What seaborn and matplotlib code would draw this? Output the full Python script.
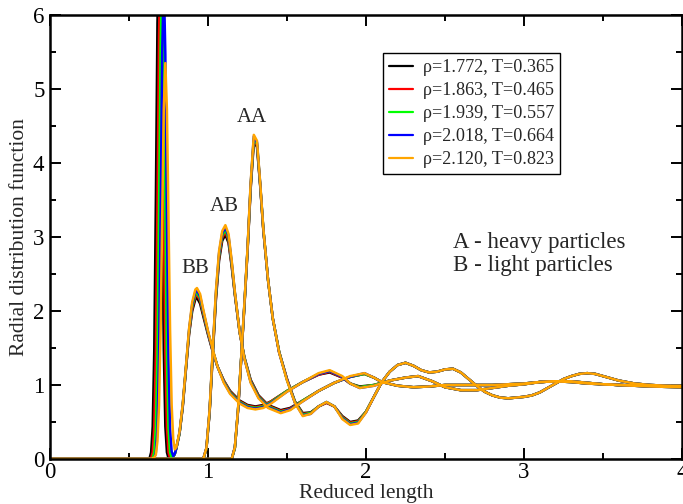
import matplotlib
matplotlib.use("Agg")
import matplotlib.pyplot as plt
import seaborn as sns
import pandas as pd

# ---------------- data ----------------
state_labels = ["ρ=1.772, T=0.365", "ρ=1.863, T=0.465", "ρ=1.939, T=0.557",
                "ρ=2.018, T=0.664", "ρ=2.120, T=0.823"]
state_colors = ["#000000", "#ff0000", "#00ff00", "#0000ff", "#ffa500"]

# B-B pair
r_bb = [0.0, 0.60, 0.62, 0.63, 0.64, 0.65, 0.66, 0.67, 0.68, 0.69, 0.70, 0.71, 0.72, 0.73,
        0.74, 0.75, 0.76, 0.77, 0.78, 0.79, 0.80,
        0.82, 0.84, 0.86, 0.88, 0.90, 0.92, 0.93, 0.95, 0.97, 1.00, 1.03, 1.06, 1.10, 1.14,
        1.20, 1.25, 1.30, 1.35, 1.40, 1.50, 1.60, 1.70, 1.77, 1.85, 1.90, 1.96, 2.05, 2.15,
        2.25, 2.33, 2.42, 2.50, 2.60, 2.70, 2.80, 2.90, 3.00, 3.10, 3.20, 3.30, 3.40, 3.60,
        3.80, 4.00]
g_bb_1 = [0, 0, 0, 0.01, 0.09, 0.44, 1.48, 3.5, 5.89, 7.0, 5.89, 3.5, 1.48, 0.44,
          0.09, 0.01, 0.0, 0.01, 0.03, 0.07, 0.15,
          0.35, 0.70, 1.20, 1.68, 2.00, 2.16, 2.18, 2.10, 1.93, 1.68, 1.45, 1.25, 1.06, 0.92,
          0.79, 0.73, 0.71, 0.73, 0.78, 0.92, 1.04, 1.14, 1.17, 1.10, 1.02, 0.98, 1.00, 1.06,
          1.10, 1.12, 1.05, 0.97, 0.93, 0.93, 0.96, 0.99, 1.01, 1.04, 1.05, 1.04, 1.02, 1.00,
          0.98, 0.97]
g_bb_2 = [0, 0, 0, 0, 0.01, 0.09, 0.43, 1.43, 3.4, 5.72, 6.8, 5.72, 3.4, 1.43,
          0.43, 0.09, 0.01, 0.01, 0.03, 0.07, 0.15,
          0.35, 0.71, 1.21, 1.70, 2.03, 2.20, 2.22, 2.14, 1.96, 1.70, 1.46, 1.25, 1.06, 0.91,
          0.78, 0.72, 0.70, 0.72, 0.78, 0.92, 1.04, 1.14, 1.18, 1.10, 1.02, 0.97, 1.00, 1.06,
          1.10, 1.12, 1.05, 0.97, 0.93, 0.93, 0.96, 0.99, 1.01, 1.04, 1.05, 1.04, 1.02, 1.00,
          0.98, 0.97]
g_bb_3 = [0, 0, 0, 0, 0, 0.01, 0.09, 0.42, 1.39, 3.3, 5.55, 6.6, 5.55, 3.3,
          1.39, 0.42, 0.09, 0.02, 0.03, 0.07, 0.15,
          0.35, 0.72, 1.22, 1.72, 2.06, 2.23, 2.25, 2.17, 1.98, 1.71, 1.47, 1.25, 1.05, 0.90,
          0.77, 0.71, 0.69, 0.71, 0.77, 0.92, 1.04, 1.15, 1.19, 1.11, 1.02, 0.97, 1.00, 1.06,
          1.10, 1.12, 1.05, 0.97, 0.93, 0.93, 0.96, 0.99, 1.01, 1.04, 1.05, 1.04, 1.02, 1.00,
          0.98, 0.97]
g_bb_4 = [0, 0, 0, 0, 0, 0, 0.01, 0.09, 0.41, 1.37, 3.25, 5.47, 6.5, 5.47,
          3.25, 1.37, 0.41, 0.10, 0.04, 0.07, 0.15,
          0.36, 0.73, 1.23, 1.74, 2.09, 2.26, 2.28, 2.20, 2.00, 1.72, 1.47, 1.25, 1.04, 0.89,
          0.76, 0.70, 0.68, 0.70, 0.76, 0.91, 1.04, 1.15, 1.19, 1.11, 1.02, 0.96, 0.99, 1.06,
          1.10, 1.12, 1.05, 0.97, 0.93, 0.93, 0.96, 0.99, 1.01, 1.04, 1.05, 1.04, 1.02, 1.00,
          0.98, 0.97]
g_bb_5 = [0, 0, 0, 0, 0, 0.01, 0.02, 0.06, 0.24, 0.72, 1.74, 3.25, 4.72, 5.35,
          4.72, 3.25, 1.74, 0.73, 0.27, 0.13, 0.16,
          0.37, 0.74, 1.24, 1.76, 2.12, 2.29, 2.31, 2.23, 2.02, 1.73, 1.48, 1.25, 1.03, 0.88,
          0.75, 0.69, 0.67, 0.69, 0.75, 0.91, 1.04, 1.16, 1.20, 1.12, 1.02, 0.96, 0.99, 1.06,
          1.10, 1.12, 1.05, 0.97, 0.93, 0.93, 0.96, 0.99, 1.01, 1.04, 1.05, 1.04, 1.02, 1.00,
          0.98, 0.97]

# A-B pair
r_ab = [0.0, 0.95, 0.97, 0.99, 1.01, 1.03, 1.05, 1.07, 1.09, 1.11, 1.13, 1.15, 1.17, 1.20,
        1.23, 1.27, 1.32, 1.38, 1.46, 1.52, 1.60, 1.70, 1.80, 1.90, 1.99, 2.05, 2.10, 2.20,
        2.30, 2.40, 2.50, 2.60, 2.70, 2.80, 2.90, 3.00, 3.10, 3.20, 3.30, 3.40, 3.50, 3.60,
        3.80, 4.00]
g_ab_1 = [0, 0, 0.0, 0.14, 0.62, 1.40, 2.15, 2.68, 2.95, 3.03, 2.92, 2.60, 2.22, 1.72,
          1.38, 1.07, 0.86, 0.73, 0.66, 0.69, 0.79, 0.92, 1.03, 1.11, 1.15, 1.10, 1.04, 0.99,
          0.97, 0.98, 1.00, 1.00, 1.00, 1.00, 1.01, 1.02, 1.04, 1.05, 1.05, 1.03, 1.01, 1.00,
          0.99, 0.98]
g_ab_2 = [0, 0, 0.0, 0.14, 0.63, 1.42, 2.18, 2.72, 2.99, 3.07, 2.95, 2.62, 2.23, 1.72,
          1.37, 1.06, 0.85, 0.72, 0.65, 0.68, 0.79, 0.92, 1.03, 1.11, 1.15, 1.10, 1.04, 0.99,
          0.97, 0.98, 1.00, 1.00, 1.00, 1.00, 1.01, 1.02, 1.04, 1.05, 1.05, 1.03, 1.01, 1.00,
          0.99, 0.98]
g_ab_3 = [0, 0, 0.0, 0.14, 0.64, 1.44, 2.21, 2.75, 3.02, 3.10, 2.98, 2.64, 2.24, 1.72,
          1.37, 1.05, 0.84, 0.71, 0.64, 0.67, 0.79, 0.92, 1.03, 1.11, 1.15, 1.10, 1.04, 0.99,
          0.97, 0.98, 1.00, 1.00, 1.00, 1.00, 1.01, 1.02, 1.04, 1.05, 1.05, 1.03, 1.01, 1.00,
          0.99, 0.98]
g_ab_4 = [0, 0, 0.0, 0.15, 0.65, 1.46, 2.24, 2.78, 3.05, 3.13, 3.01, 2.66, 2.25, 1.72,
          1.36, 1.04, 0.83, 0.70, 0.63, 0.67, 0.78, 0.92, 1.03, 1.11, 1.16, 1.10, 1.04, 0.99,
          0.97, 0.98, 1.00, 1.00, 1.00, 1.00, 1.01, 1.02, 1.04, 1.05, 1.05, 1.03, 1.01, 1.00,
          0.99, 0.98]
g_ab_5 = [0, 0, 0.0, 0.15, 0.66, 1.48, 2.27, 2.81, 3.08, 3.16, 3.04, 2.68, 2.26, 1.72,
          1.36, 1.03, 0.82, 0.69, 0.62, 0.66, 0.78, 0.92, 1.03, 1.12, 1.16, 1.10, 1.04, 0.99,
          0.97, 0.98, 1.00, 1.00, 1.00, 1.00, 1.01, 1.02, 1.04, 1.05, 1.05, 1.03, 1.01, 1.00,
          0.99, 0.98]

# A-A pair
r_aa = [0.0, 1.15, 1.17, 1.19, 1.21, 1.23, 1.25, 1.27, 1.29, 1.31, 1.33, 1.35, 1.38, 1.41,
        1.45, 1.50, 1.55, 1.60, 1.65, 1.70, 1.75, 1.80, 1.85, 1.90, 1.95, 2.00, 2.05, 2.10,
        2.15, 2.20, 2.25, 2.30, 2.35, 2.40, 2.45, 2.50, 2.55, 2.60, 2.65, 2.70, 2.75, 2.80,
        2.85, 2.90, 2.95, 3.00, 3.05, 3.10, 3.15, 3.20, 3.25, 3.30, 3.35, 3.40, 3.45, 3.50,
        3.60, 3.70, 3.80, 3.90, 4.00]
g_aa_1 = [0, 0, 0.15, 0.65, 1.35, 2.05, 2.80, 3.65, 4.28, 4.22, 3.70, 3.10, 2.42, 1.90,
          1.45, 1.08, 0.78, 0.62, 0.63, 0.71, 0.76, 0.71, 0.58, 0.50, 0.52, 0.64, 0.84, 1.04,
          1.18, 1.27, 1.30, 1.26, 1.20, 1.17, 1.18, 1.21, 1.22, 1.17, 1.08, 0.99, 0.91, 0.86,
          0.83, 0.82, 0.83, 0.84, 0.86, 0.90, 0.96, 1.02, 1.08, 1.12, 1.15, 1.16, 1.15, 1.12,
          1.06, 1.02, 1.00, 0.99, 0.99]
g_aa_2 = [0, 0, 0.15, 0.65, 1.35, 2.06, 2.81, 3.67, 4.31, 4.24, 3.71, 3.10, 2.42, 1.90,
          1.45, 1.08, 0.77, 0.61, 0.62, 0.71, 0.76, 0.71, 0.57, 0.49, 0.51, 0.64, 0.84, 1.04,
          1.18, 1.27, 1.30, 1.26, 1.20, 1.17, 1.18, 1.21, 1.22, 1.17, 1.08, 0.99, 0.91, 0.86,
          0.83, 0.82, 0.83, 0.84, 0.86, 0.90, 0.96, 1.02, 1.08, 1.12, 1.15, 1.16, 1.15, 1.12,
          1.06, 1.02, 1.00, 0.99, 0.99]
g_aa_3 = [0, 0, 0.15, 0.66, 1.36, 2.07, 2.82, 3.69, 4.33, 4.26, 3.72, 3.11, 2.42, 1.90,
          1.45, 1.07, 0.77, 0.60, 0.62, 0.71, 0.77, 0.71, 0.56, 0.48, 0.50, 0.64, 0.84, 1.04,
          1.18, 1.27, 1.30, 1.26, 1.20, 1.17, 1.18, 1.21, 1.22, 1.17, 1.08, 0.99, 0.91, 0.86,
          0.83, 0.82, 0.83, 0.84, 0.86, 0.90, 0.96, 1.02, 1.08, 1.12, 1.15, 1.16, 1.15, 1.12,
          1.06, 1.02, 1.00, 0.99, 0.99]
g_aa_4 = [0, 0, 0.16, 0.66, 1.36, 2.08, 2.83, 3.71, 4.36, 4.28, 3.73, 3.11, 2.42, 1.90,
          1.44, 1.07, 0.76, 0.59, 0.61, 0.71, 0.77, 0.71, 0.55, 0.47, 0.49, 0.63, 0.84, 1.04,
          1.18, 1.27, 1.30, 1.26, 1.20, 1.17, 1.18, 1.21, 1.22, 1.17, 1.08, 0.99, 0.91, 0.86,
          0.83, 0.82, 0.83, 0.84, 0.86, 0.90, 0.96, 1.02, 1.08, 1.12, 1.15, 1.16, 1.15, 1.12,
          1.06, 1.02, 1.00, 0.99, 0.99]
g_aa_5 = [0, 0, 0.16, 0.67, 1.37, 2.09, 2.84, 3.73, 4.38, 4.30, 3.74, 3.12, 2.42, 1.90,
          1.44, 1.06, 0.76, 0.58, 0.61, 0.71, 0.77, 0.71, 0.54, 0.46, 0.48, 0.63, 0.84, 1.04,
          1.18, 1.27, 1.30, 1.26, 1.20, 1.17, 1.18, 1.21, 1.22, 1.17, 1.08, 0.99, 0.91, 0.86,
          0.83, 0.82, 0.83, 0.84, 0.86, 0.90, 0.96, 1.02, 1.08, 1.12, 1.15, 1.16, 1.15, 1.12,
          1.06, 1.02, 1.00, 0.99, 0.99]

pair_labels = ["BB", "AB", "AA"]
x_ticks = [0, 1, 2, 3, 4]
y_ticks = [0, 1, 2, 3, 4, 5, 6]
notes = ["A - heavy particles", "B - light particles"]

# ---------------- build long table ----------------
series = {
    "BB": (r_bb, [g_bb_1, g_bb_2, g_bb_3, g_bb_4, g_bb_5]),
    "AB": (r_ab, [g_ab_1, g_ab_2, g_ab_3, g_ab_4, g_ab_5]),
    "AA": (r_aa, [g_aa_1, g_aa_2, g_aa_3, g_aa_4, g_aa_5]),
}
rows = []
for si, lab in enumerate(state_labels):
    for pair in pair_labels:
        r, gs = series[pair]
        for x, y in zip(r, gs[si]):
            rows.append({"r": x, "g": y, "state": lab, "pair": pair})
df = pd.DataFrame(rows)

# ---------------- style ----------------
sns.set_theme(style="ticks")
plt.rcParams["font.family"] = ["Liberation Serif", "DejaVu Serif"]
plt.rcParams["axes.linewidth"] = 1.6
plt.rcParams["xtick.direction"] = "in"
plt.rcParams["ytick.direction"] = "in"

fig = plt.figure(figsize=(6.83, 5.04), dpi=100)
ax = fig.add_axes([50 / 683, 45 / 504, 632 / 683, 444 / 504])

sns.lineplot(data=df, x="r", y="g", hue="state", units="pair", estimator=None,
             sort=False, palette=state_colors, hue_order=state_labels,
             linewidth=1.8, ax=ax)

ax.set_xlim(0, 4)
ax.set_ylim(0, 6)
ax.set_xticks(x_ticks)
ax.set_yticks(y_ticks)
ax.set_xticks([0.5, 1.5, 2.5, 3.5], minor=True)
ax.set_yticks([0.5, 1.5, 2.5, 3.5, 4.5, 5.5], minor=True)
ax.tick_params(which="both", top=True, right=True, direction="in", width=1.4,
               colors="black", labelsize=16.5, pad=2)
ax.tick_params(which="major", length=8)
ax.tick_params(which="minor", length=4)
ax.tick_params(axis="y", pad=4)
for s in ax.spines.values():
    s.set_color("black")
    s.set_linewidth(1.8)

ax.set_xlabel("Reduced length", fontsize=15.5, labelpad=1)
ax.set_ylabel("Radial distribution function", fontsize=15.5, labelpad=3)

# peak labels
ax.text(0.918, 2.58, "BB", ha="center", va="center", fontsize=15)
ax.text(1.10, 3.41, "AB", ha="center", va="center", fontsize=15)
ax.text(1.28, 4.61, "AA", ha="center", va="center", fontsize=15)
ax.text(2.55, 2.92, notes[0], ha="left", va="center", fontsize=16.5)
ax.text(2.55, 2.62, notes[1], ha="left", va="center", fontsize=16.5)

leg = ax.legend(loc="upper left", bbox_to_anchor=(0.527, 0.914), borderaxespad=0,
                fontsize=13.1, frameon=True, fancybox=False, framealpha=1,
                edgecolor="black", handlelength=1.35, handletextpad=0.5,
                labelspacing=0.33, borderpad=0.32, title=None)
leg.get_frame().set_linewidth(1.0)
for line in leg.get_lines():
    line.set_linewidth(1.6)

fig.savefig("out.png", dpi=100)
